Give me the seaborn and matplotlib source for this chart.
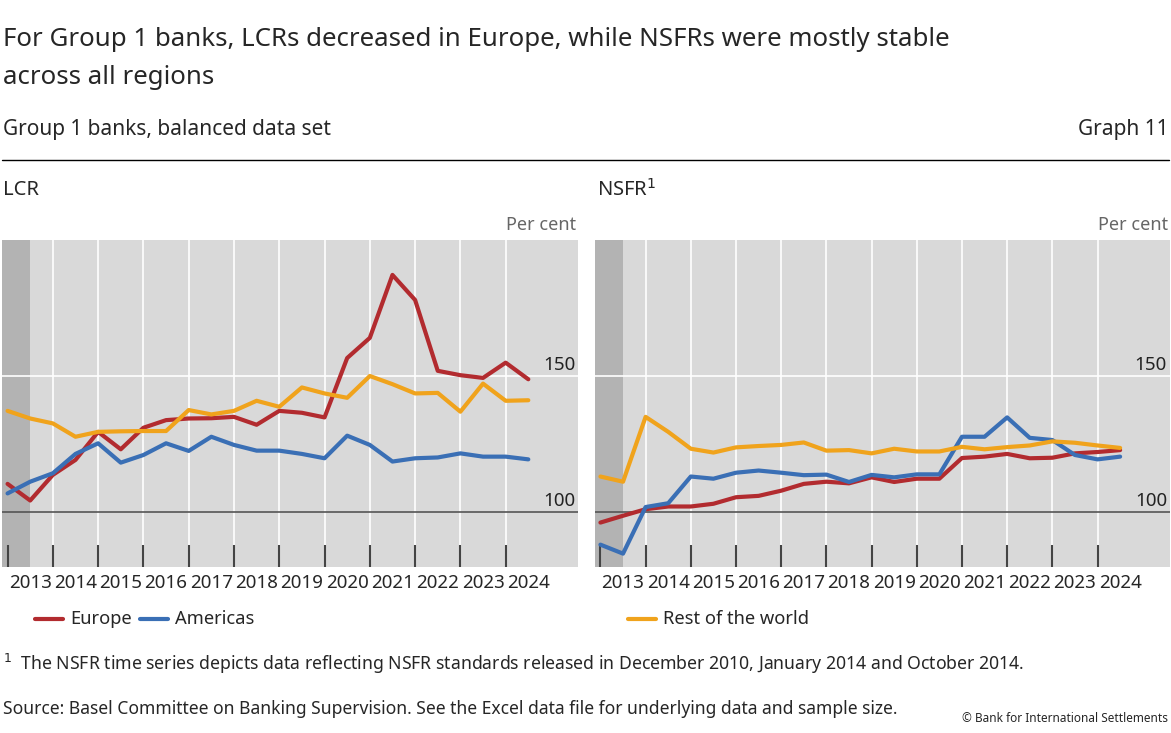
import numpy as np
import pandas as pd
import matplotlib
matplotlib.use("Agg")
import matplotlib.pyplot as plt
import seaborn as sns

sns.set_theme(style="white")
plt.rcParams['font.family'] = ['Noto Sans', 'DejaVu Sans']

periods = [2013 + 0.5 * i for i in range(24)]
years = list(range(2013, 2025))

lcr_europe = [110.5, 104.4, 113.8, 119.3, 129.6, 123.2, 131.1, 133.9, 134.5, 134.6, 135.1, 132.2,
              137.3, 136.6, 134.9, 156.7, 164.1, 187.2, 178.0, 152.0, 150.4, 149.4, 155.0, 148.9]
lcr_americas = [107.0, 111.3, 114.4, 121.5, 125.4, 118.3, 121.1, 125.4, 122.6, 127.8, 124.8, 122.7,
                122.7, 121.5, 119.9, 128.2, 124.8, 118.7, 119.9, 120.2, 121.7, 120.5, 120.5, 119.5]
lcr_row = [137.3, 134.5, 132.7, 127.8, 129.6, 129.8, 129.9, 129.9, 137.6, 136.0, 137.3, 141.0,
           138.8, 145.9, 143.7, 142.1, 150.1, 147.1, 143.7, 143.9, 137.0, 147.3, 141.0, 141.2]

nsfr_europe = [96.3, 98.8, 101.2, 102.2, 102.2, 103.2, 105.6, 106.1, 108.0, 110.5, 111.3, 110.7,
               112.9, 111.2, 112.4, 112.4, 120.0, 120.5, 121.5, 119.9, 120.1, 121.7, 122.2, 122.9]
nsfr_americas = [88.2, 84.9, 102.0, 103.4, 113.2, 112.4, 114.6, 115.4, 114.6, 113.7, 113.9, 111.2,
                 113.8, 112.9, 114.0, 114.0, 127.8, 127.8, 134.9, 127.4, 126.6, 121.1, 119.5, 120.5]
nsfr_row = [113.2, 111.3, 135.1, 129.6, 123.4, 122.0, 123.9, 124.4, 124.8, 125.7, 122.7, 122.9,
            121.7, 123.4, 122.4, 122.4, 124.1, 123.2, 124.0, 124.6, 126.1, 125.6, 124.6, 123.7]

series_names = ["Europe", "Americas", "Rest of the world"]
colors = {"Europe": "#b22b2f", "Americas": "#3a6fb5", "Rest of the world": "#f0a31c"}

fig = plt.figure(figsize=(11.71, 7.33), dpi=100)
axL = fig.add_axes([0.0017, 0.2265, 0.492, 0.446])
axR = fig.add_axes([0.508, 0.2265, 0.491, 0.446])

def draw(ax, vals):
    df = pd.DataFrame({"x": periods * 3,
                       "y": sum(vals, []),
                       "s": sum([[n] * len(periods) for n in series_names], [])})
    ax.set_facecolor("#d9d9d9")
    ax.axvspan(2012.877, 2013.5, color="#b3b3b3", lw=0, zorder=0)
    for yr in years[1:]:
        ax.axvline(yr, color="white", lw=1.2, zorder=0.5)
    ax.axhline(150, color="white", lw=1.2, zorder=0.5)
    ax.axhline(100, color="#555555", lw=1.2, zorder=0.6)
    sns.lineplot(data=df, x="x", y="y", hue="s", palette=colors, lw=3,
                 legend=False, ax=ax, zorder=3)
    ax.set_xlim(2012.877, 2025.6)
    ax.set_ylim(80, 200)
    ax.set_xticks(years)
    ax.set_xticklabels([])
    ax.tick_params(axis="x", which="major", direction="in", length=16, width=1.5,
                   color="#444444", bottom=True)
    ax.set_xticks([y + 0.5 for y in years], minor=True)
    ax.set_xticklabels([str(y) for y in years], minor=True, fontsize=13.5)
    ax.tick_params(axis="x", which="minor", length=0, pad=5)
    ax.set_yticks([])
    ax.set_xlabel("")
    ax.set_ylabel("")
    for s in ax.spines.values():
        s.set_visible(False)
    ax.text(0.995, 150.8, "150", transform=ax.get_yaxis_transform(), ha="right",
            va="bottom", fontsize=13.5, color="#222222")
    ax.text(0.995, 100.8, "100", transform=ax.get_yaxis_transform(), ha="right",
            va="bottom", fontsize=13.5, color="#222222")

draw(axL, [lcr_europe, lcr_americas, lcr_row])
draw(axR, [nsfr_europe, nsfr_americas, nsfr_row])

def px(x, y):
    return x / 1171, 1 - y / 733

fig.text(*px(3, 40), "For Group 1 banks, LCRs decreased in Europe, while NSFRs were mostly stable",
         fontsize=18.6, va="center", ha="left")
fig.text(*px(3, 77), "across all regions", fontsize=18.6, va="center", ha="left")
fig.text(*px(3, 130), "Group 1 banks, balanced data set", fontsize=15, va="center")
fig.text(*px(1168, 130), "Graph 11", fontsize=15, va="center", ha="right")
fig.add_artist(plt.Line2D([0.0017, 0.998], [1 - 160 / 733] * 2, color="black", lw=1))
fig.text(*px(3, 190), "LCR", fontsize=14.5, va="center")
fig.text(*px(597, 190), r"NSFR$^{1}$", fontsize=14.5, va="center")
fig.text(*px(576, 225), "Per cent", fontsize=13, va="center", ha="right", color="#666666")
fig.text(*px(1168, 225), "Per cent", fontsize=13, va="center", ha="right", color="#666666")

def legend_item(x, y, name):
    fig.add_artist(plt.Line2D([x / 1171, (x + 28) / 1171], [1 - y / 733] * 2,
                              color=colors[name], lw=3))
    fig.text((x + 35) / 1171, 1 - y / 733, name, fontsize=13.2, va="center")

legend_item(35, 619, "Europe")
legend_item(140, 619, "Americas")
legend_item(628, 619, "Rest of the world")

fig.text(*px(3, 664), r"$^{1}$  The NSFR time series depicts data reflecting NSFR standards released in December 2010, January 2014 and October 2014.",
         fontsize=12.7, va="center")
fig.text(*px(3, 709), "Source: Basel Committee on Banking Supervision. See the Excel data file for underlying data and sample size.",
         fontsize=12.6, va="center")
fig.text(*px(1168, 718), "© Bank for International Settlements", fontsize=8.5, va="center", ha="right")

fig.savefig("out.png", dpi=100, facecolor="white")
